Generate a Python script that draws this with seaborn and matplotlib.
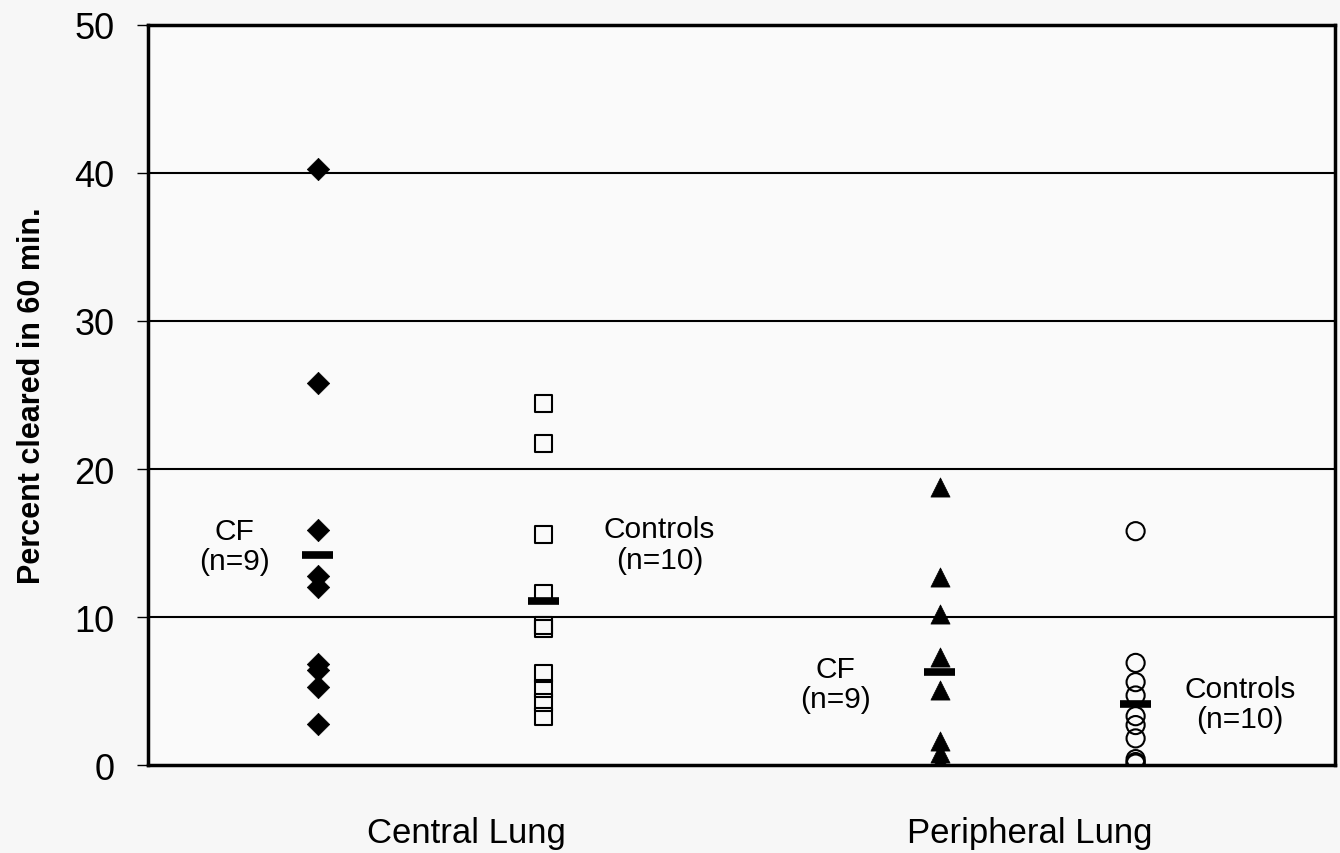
import matplotlib
matplotlib.use("Agg")
import matplotlib.pyplot as plt
import seaborn as sns
import pandas as pd
import numpy as np

# ---- data ----
groups = ["Central CF", "Central Controls", "Peripheral CF", "Peripheral Controls"]
central_cf = [40.3, 25.8, 15.9, 12.8, 12.0, 6.8, 6.4, 5.3, 2.8]
central_controls = [24.4, 21.7, 15.6, 11.6, 9.4, 9.2, 6.2, 5.2, 4.2, 3.3]
peripheral_cf = [18.8, 12.7, 10.2, 7.3, 5.1, 1.6, 0.8, 0.2, 0.0]
peripheral_controls = [15.8, 6.9, 5.6, 4.7, 3.3, 2.7, 1.8, 0.4, 0.2, 0.1]
group_means = [14.2, 11.1, 6.3, 4.1]
category_labels = ["Central Lung", "Peripheral Lung"]
annotations = ["CF\n(n=9)", "Controls\n(n=10)", "CF\n(n=9)", "Controls\n(n=10)"]
y_ticks = [0, 10, 20, 30, 40, 50]
y_label = "Percent cleared in 60 min."

# ---- layout (positions only) ----
group_x = [1.43, 3.33, 6.67, 8.32]
category_x = [2.68, 7.43]
annot_xy = [(0.73, 14.8), (4.31, 14.9), (5.79, 5.5), (9.20, 4.1)]

sns.set_theme(style="white")
plt.rcParams["font.family"] = ["Liberation Sans", "DejaVu Sans"]
plt.rcParams["text.color"] = "black"
plt.rcParams["axes.labelcolor"] = "black"
plt.rcParams["xtick.color"] = "black"
plt.rcParams["ytick.color"] = "black"

fig = plt.figure(figsize=(13.4, 8.54), dpi=100, facecolor="#f7f7f7")
ax = fig.add_axes([0.1104, 0.103, 0.9963 - 0.1104, 0.9696 - 0.103])
ax.set_facecolor("#fafafa")

series = [central_cf, central_controls, peripheral_cf, peripheral_controls]
frames = []
for g, vals, xp in zip(groups, series, group_x):
    frames.append(pd.DataFrame({"group": g, "value": vals, "x": xp}))
df = pd.concat(frames, ignore_index=True)

styles = {
    "Central CF": dict(marker="D", s=130, facecolor="black", edgecolor="black", linewidth=0.5),
    "Central Controls": dict(marker="s", s=150, facecolor="none", edgecolor="black", linewidth=1.5),
    "Peripheral CF": dict(marker="^", s=190, facecolor="black", edgecolor="black", linewidth=0.5),
    "Peripheral Controls": dict(marker="o", s=170, facecolor="none", edgecolor="black", linewidth=1.5),
}
for g in groups:
    sub = df[df["group"] == g]
    sns.scatterplot(data=sub, x="x", y="value", ax=ax, legend=False, zorder=3, **styles[g])

# mean bars
for xp, m in zip(group_x, group_means):
    ax.hlines(m, xp - 0.13, xp + 0.13, color="black", linewidth=5.5, zorder=4)

# annotations
for (ax_x, ax_y), txt in zip(annot_xy, annotations):
    ax.text(ax_x, ax_y, txt, ha="center", va="center", fontsize=21.5, linespacing=1.1, color="black")

ax.set_xlim(0, 10)
ax.set_ylim(0, 50)
ax.set_yticks(y_ticks)
ax.set_yticklabels([str(t) for t in y_ticks], fontsize=26)
ax.set_xticks(category_x)
ax.set_xticklabels(category_labels, fontsize=25)
ax.tick_params(axis="x", length=0, pad=37)
ax.tick_params(axis="y", left=True, length=8, width=1, pad=16, color="black", direction="out")
ax.set_ylabel(y_label, fontsize=22, fontweight="bold", labelpad=20, color="black")
ax.set_xlabel("")

for y in y_ticks[1:-1]:
    ax.axhline(y, color="black", linewidth=1.5, zorder=1)

for sp in ax.spines.values():
    sp.set_visible(True)
    sp.set_color("black")
    sp.set_linewidth(2.5)

fig.savefig("out.png", dpi=100, facecolor=fig.get_facecolor())
